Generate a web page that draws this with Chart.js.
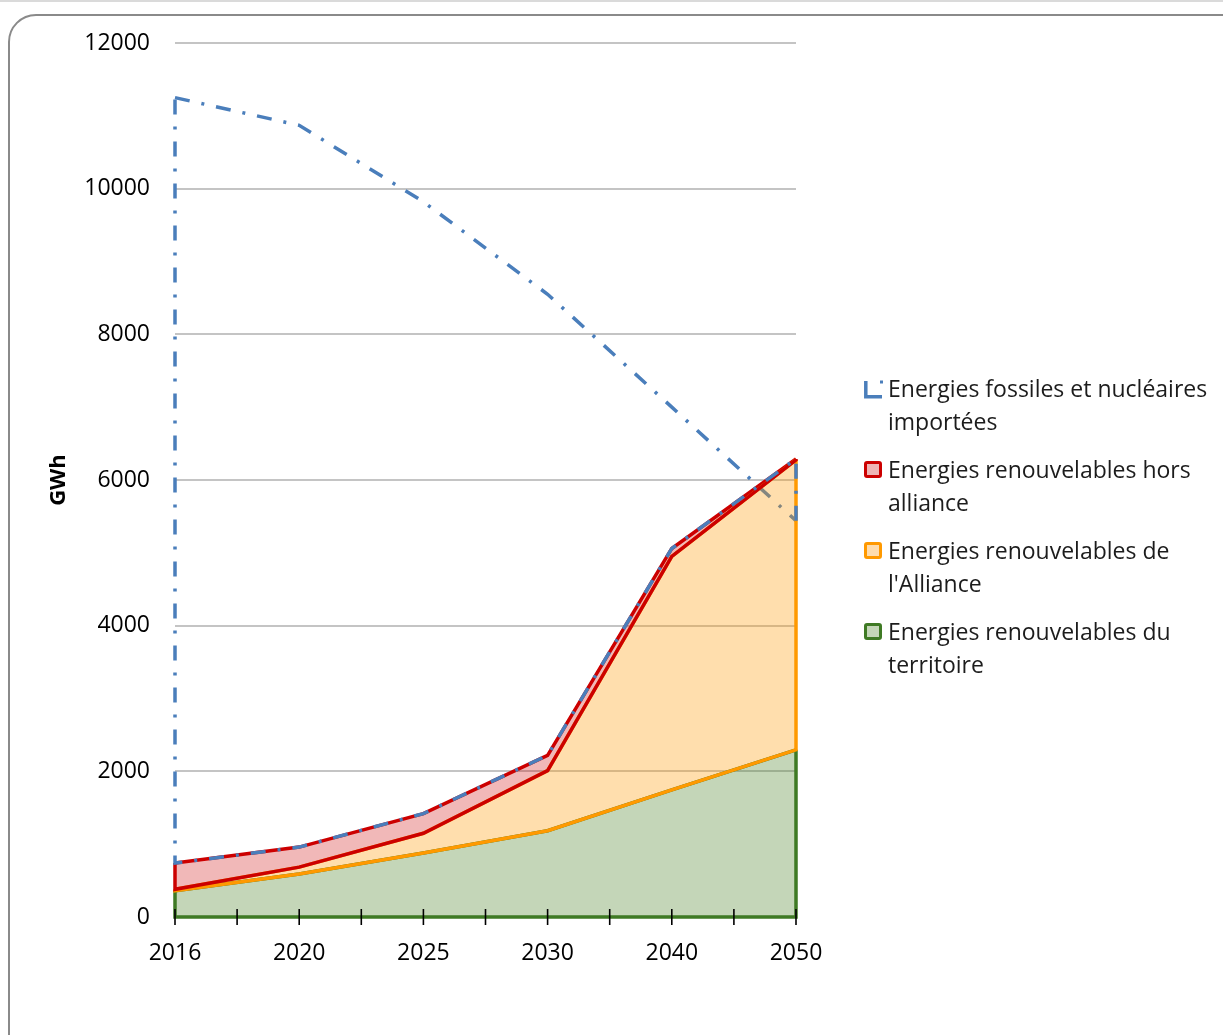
<!DOCTYPE html>
<html lang="fr">
<head>
<meta charset="utf-8">
<title>Consommation d'énergie (GWh)</title>
<script src="https://cdn.jsdelivr.net/npm/chart.js@4.4.1/dist/chart.umd.min.js"></script>
<style>
  html, body { margin: 0; padding: 0; background: #fff; overflow: hidden; }
  body { width: 1223px; height: 1035px; position: relative; font-family: "Open Sans", Lato, sans-serif; }
  .topline { position: absolute; left: 0; top: 0; width: 1223px; height: 2px; background: #dadada; }
  .frame { position: absolute; left: 8px; top: 14px; width: 1300px; height: 1100px;
           border: 2px solid #8a8a8a; border-radius: 28px; box-sizing: border-box; }
  #wrap { position: absolute; left: 0; top: 0; width: 1223px; height: 1035px; }
  .legend { position: absolute; left: 864px; top: 372px; color: #1c1c1c; font-size: 23px; line-height: 33px; }
  .item { position: relative; padding-left: 24px; margin-bottom: 15px; white-space: nowrap; }
  .swatch { position: absolute; left: 0; top: 8px; width: 18px; height: 17px; box-sizing: border-box;
            border: 3px solid; border-radius: 3px; }
  .item svg { position: absolute; left: 0; top: 8px; }
</style>
</head>
<body>
<div class="topline"></div>
<div class="frame"></div>
<div id="wrap"><canvas id="chart"></canvas></div>
<div class="legend">
  <div class="item">
    <svg width="20" height="19" viewBox="0 0 20 19">
      <path d="M1.8 1 V16.8 H18" fill="none" stroke="#4a7ebb" stroke-width="3.5"/>
      <rect x="16" y="0.5" width="3" height="3" fill="#4a7ebb"/>
    </svg>
    Energies fossiles et nucléaires<br>importées
  </div>
  <div class="item"><span class="swatch" style="border-color:#cc0000;background:#eeb4b4"></span>Energies renouvelables hors<br>alliance</div>
  <div class="item"><span class="swatch" style="border-color:#ff9900;background:#fedcad"></span>Energies renouvelables de<br>l'Alliance</div>
  <div class="item"><span class="swatch" style="border-color:#3f7a24;background:#c4d6b8"></span>Energies renouvelables du<br>territoire</div>
</div>
<script>
// Années
const annees = ['2016', '2020', '2025', '2030', '2040', '2050'];

// Production renouvelable (GWh), empilée
const renouvTerritoire = [360, 590, 880, 1185, 1745, 2295];
const renouvAlliance = [20, 95, 270, 825, 3205, 3980];
const renouvHorsAlliance = [360, 275, 270, 210, 110, 15];

// Consommation couverte par les énergies fossiles et nucléaires importées (courbe, GWh)
const fossilesImportees = [11250, 10870, 9820, 8550, 7000, 5440];

// Graduations de l'axe vertical
const yMin = 0, yMax = 12000, yPas = 2000;

const FONT = '"Open Sans", Lato, sans-serif';

const couleurs = {
  territoire: { line: '#3f7a24', fill: 'rgba(86,138,52,0.35)' },
  alliance:   { line: '#ff9900', fill: 'rgba(255,153,0,0.32)' },
  hors:       { line: '#cc0000', fill: 'rgba(204,0,0,0.28)' },
  fossile:    { line: '#4a7ebb' }
};
const tiretPoint = [15, 12, 3, 12];
const EPAISSEUR = 3.5;

// Contour complet de chaque surface (bords verticaux et bord inférieur),
// le bord supérieur étant tracé par la série elle-même.
const contourSurfaces = {
  id: 'contourSurfaces',
  afterDatasetsDraw(chart) {
    const ctx = chart.ctx;
    const base = chart.scales.y.getPixelForValue(0);
    const dessous = [null, 0, 1, 2];
    ctx.save();
    ctx.lineWidth = EPAISSEUR;
    ctx.lineJoin = 'miter';
    ctx.lineCap = 'butt';
    chart.data.datasets.forEach((ds, i) => {
      const haut = chart.getDatasetMeta(i).data;
      const bas = dessous[i] === null
        ? haut.map(p => ({ x: p.x, y: base }))
        : chart.getDatasetMeta(dessous[i]).data;
      const n = haut.length;
      ctx.beginPath();
      ctx.moveTo(haut[n - 1].x, haut[n - 1].y);
      ctx.lineTo(bas[n - 1].x, bas[n - 1].y);
      for (let k = n - 2; k >= 0; k--) ctx.lineTo(bas[k].x, bas[k].y);
      ctx.lineTo(haut[0].x, haut[0].y);
      ctx.strokeStyle = ds.borderColor;
      ctx.setLineDash(ds.borderDash || []);
      ctx.stroke();
    });
    ctx.restore();
  },
  afterDraw(chart) {
    // Graduations de l'axe des abscisses, de part et d'autre de l'axe
    const ctx = chart.ctx;
    const xs = chart.scales.x;
    const base = chart.scales.y.getPixelForValue(0);
    const pos = [];
    for (let i = 0; i < annees.length; i++) {
      pos.push(xs.getPixelForValue(i));
      if (i < annees.length - 1) pos.push((xs.getPixelForValue(i) + xs.getPixelForValue(i + 1)) / 2);
    }
    ctx.save();
    ctx.strokeStyle = '#000';
    ctx.lineWidth = 1.6;
    pos.forEach(x => {
      ctx.beginPath();
      ctx.moveTo(x, base - 8);
      ctx.lineTo(x, base + 8);
      ctx.stroke();
    });
    ctx.restore();
  }
};

new Chart(document.getElementById('chart'), {
  type: 'line',
  data: {
    labels: annees,
    datasets: [
      {
        label: 'Energies renouvelables du territoire',
        data: renouvTerritoire, stack: 'renouvelables', fill: 'origin',
        borderColor: couleurs.territoire.line, backgroundColor: couleurs.territoire.fill,
        borderWidth: EPAISSEUR, pointRadius: 0, tension: 0
      },
      {
        label: "Energies renouvelables de l'Alliance",
        data: renouvAlliance, stack: 'renouvelables', fill: '-1',
        borderColor: couleurs.alliance.line, backgroundColor: couleurs.alliance.fill,
        borderWidth: EPAISSEUR, pointRadius: 0, tension: 0
      },
      {
        label: 'Energies renouvelables hors alliance',
        data: renouvHorsAlliance, stack: 'renouvelables', fill: '-1',
        borderColor: couleurs.hors.line, backgroundColor: couleurs.hors.fill,
        borderWidth: EPAISSEUR, pointRadius: 0, tension: 0
      },
      {
        label: 'Energies fossiles et nucléaires importées',
        data: fossilesImportees, stack: 'fossiles', fill: false,
        borderColor: couleurs.fossile.line, borderDash: tiretPoint,
        borderWidth: EPAISSEUR, pointRadius: 0, tension: 0, borderCapStyle: 'butt'
      }
    ]
  },
  options: {
    responsive: true,
    maintainAspectRatio: false,
    animation: false,
    layout: { padding: { left: 0, right: 427, top: 43, bottom: 68 } },
    plugins: { legend: { display: false }, tooltip: { enabled: false } },
    scales: {
      x: {
        type: 'category',
        offset: false,
        grid: { display: false, drawTicks: false },
        border: { display: false },
        ticks: { color: '#000', font: { family: FONT, size: 23 }, padding: 23, maxRotation: 0, autoSkip: false },
        afterFit(scale) { scale.height = 50; }
      },
      y: {
        stacked: true,
        min: yMin, max: yMax,
        grid: { color: '#c4c4c4', lineWidth: 2, drawTicks: false },
        border: { display: false },
        ticks: {
          stepSize: yPas, color: '#000', font: { family: FONT, size: 23 }, padding: 25,
          callback: v => String(v)
        },
        title: { display: true, text: 'GWh', color: '#000', font: { family: FONT, size: 22, weight: 'bold' }, padding: { top: 46, bottom: 0 } },
        afterFit(scale) { scale.width = 175; }
      }
    }
  },
  plugins: [contourSurfaces]
});
</script>
</body>
</html>
